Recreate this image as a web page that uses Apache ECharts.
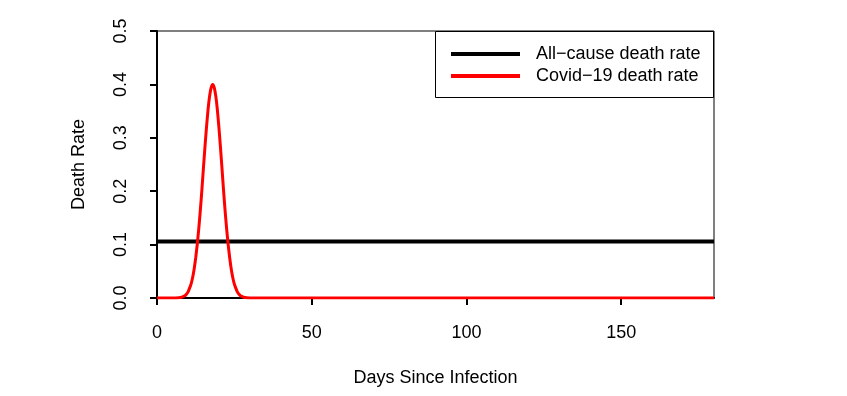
<!DOCTYPE html>
<html>
<head>
<meta charset="utf-8">
<script src="https://cdn.jsdelivr.net/npm/echarts@6/dist/echarts.min.js"></script>
<style>
  html, body { margin: 0; padding: 0; background: #fff; }
  #chart { width: 847px; height: 396px; }
</style>
</head>
<body>
<div id="chart"></div>
<script>
// values
const xTicks = [0, 50, 100, 150];
const yTicks = [0, 0.1, 0.2, 0.3, 0.4, 0.5];
const allCauseDays = [0, 180];
const allCauseRate = [0.106, 0.106];
const covidDays = [0, 5, 7, 8, 8.5, 9, 9.5, 10, 10.5, 11, 11.5, 12, 12.5, 13, 13.5, 14, 14.5, 15, 15.5, 16, 16.5, 17, 17.5,
  18, 18.5, 19, 19.5, 20, 20.5, 21, 21.5, 22, 22.5, 23, 23.5, 24, 24.5, 25, 25.5, 26, 26.5, 27, 27.5, 28, 29, 31, 40, 180];
const covidRate = [0, 0, 0.0005, 0.0015, 0.003, 0.004, 0.007, 0.011, 0.018, 0.026, 0.038, 0.054, 0.075, 0.100, 0.130, 0.164, 0.202, 0.243, 0.283, 0.320, 0.353, 0.378, 0.394,
  0.400, 0.394, 0.378, 0.353, 0.320, 0.283, 0.243, 0.202, 0.164, 0.130, 0.100, 0.075, 0.054, 0.038, 0.026, 0.018, 0.011, 0.007, 0.004, 0.003, 0.0015, 0.0005, 0, 0, 0];

const font = 'Liberation Sans, Arial, sans-serif';
const pairs = (xs, ys) => xs.map((x, i) => [x, ys[i]]);

const chart = echarts.init(document.getElementById('chart'));
chart.setOption({
  animation: false,
  backgroundColor: '#fff',
  textStyle: { fontFamily: font, color: '#000' },
  grid: { left: 157, right: 133, top: 31, bottom: 98, show: true, borderColor: '#000', borderWidth: 1 },
  xAxis: {
    type: 'value', min: 0, max: 180,
    name: 'Days Since Infection', nameLocation: 'middle', nameGap: 71,
    nameTextStyle: { fontSize: 18, color: '#000', fontFamily: font },
    axisLine: { show: true, lineStyle: { color: '#000', width: 2 } },
    axisTick: { show: true, length: 7, lineStyle: { color: '#000', width: 2 }, customValues: xTicks },
    axisLabel: { fontSize: 18, color: '#000', margin: 26, customValues: xTicks },
    splitLine: { show: false }
  },
  yAxis: {
    type: 'value', min: 0, max: 0.5,
    name: 'Death Rate', nameLocation: 'middle', nameGap: 69, nameRotate: 90,
    nameTextStyle: { fontSize: 18, color: '#000', fontFamily: font },
    axisLine: { show: true, lineStyle: { color: '#000', width: 2 } },
    axisTick: { show: true, length: 7, lineStyle: { color: '#000', width: 2 }, customValues: yTicks },
    axisLabel: { fontSize: 18, color: '#000', margin: 27, rotate: 90, customValues: yTicks,
      formatter: v => v.toFixed(1) },
    splitLine: { show: false }
  },
  legend: {
    orient: 'vertical', left: 436, top: 32,
    padding: [12, 10, 12, 15], itemGap: 2,
    itemWidth: 69, itemHeight: 4, icon: 'rect',
    textStyle: { fontSize: 18, color: '#000', lineHeight: 20, padding: [0, 0, 0, 11] },
    itemStyle: { borderWidth: 0 },
    data: ['All\u2212cause death rate', 'Covid\u221219 death rate']
  },
  graphic: [{
    type: 'rect', z: 10, silent: true,
    shape: { x: 435.5, y: 31.5, width: 278, height: 66 },
    style: { fill: 'none', stroke: '#000', lineWidth: 1 }
  }],
  series: [
    {
      name: 'All\u2212cause death rate', type: 'line', showSymbol: false,
      data: pairs(allCauseDays, allCauseRate),
      color: '#000', lineStyle: { color: '#000', width: 4 }
    },
    {
      name: 'Covid\u221219 death rate', type: 'line', showSymbol: false, smooth: 0.2,
      data: pairs(covidDays, covidRate),
      color: '#ff0000', lineStyle: { color: '#ff0000', width: 3 }
    }
  ]
});
</script>
</body>
</html>
